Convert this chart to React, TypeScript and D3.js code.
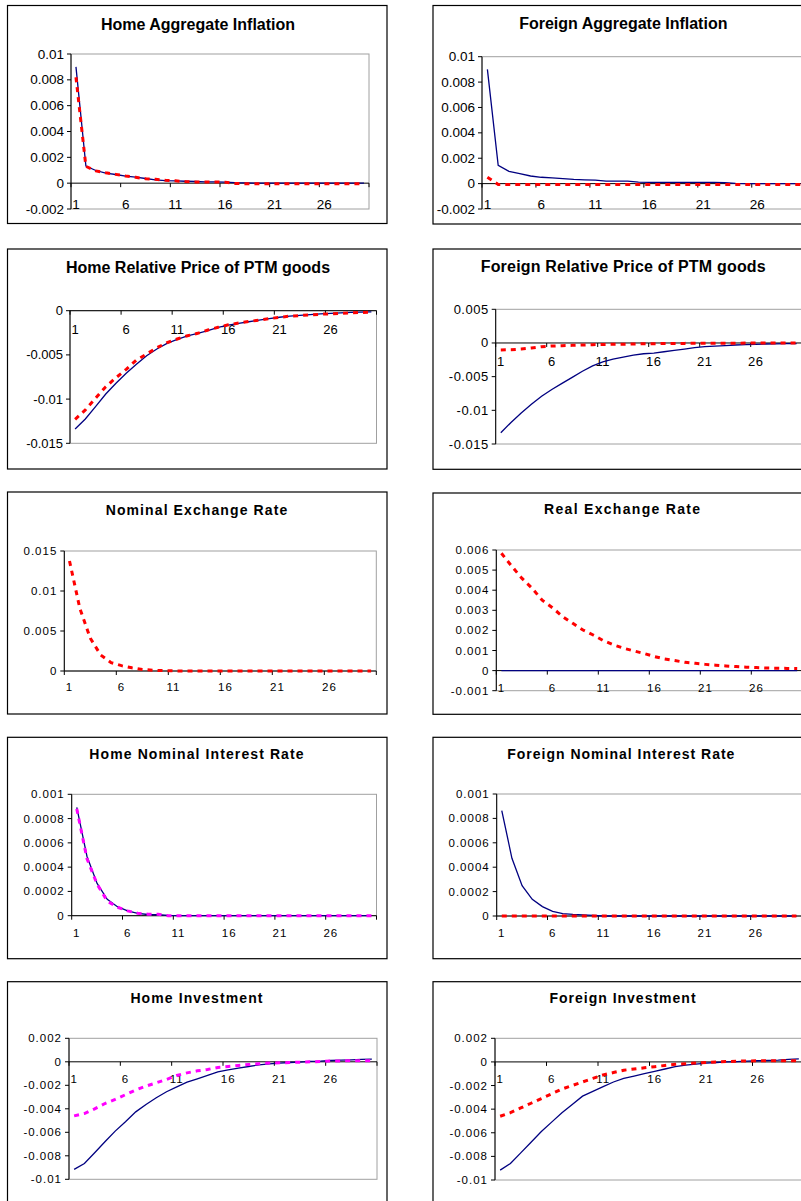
import React from "react";
import * as d3 from "d3";

// ---------- data ----------
const periods = d3.range(1, 31);
const xTickLabels = [1, 6, 11, 16, 21, 26];

const homeInflationBlue = [0.009, 0.00132, 0.00098, 0.00078, 0.00067, 0.00054, 0.00047, 0.00036, 0.00026, 0.0002, 0.00018, 0.00015, 0.00013, 0.0001, 0.0001, 0.00008, 0.00004, 0.00002, 0, 0, 0, 0, 0, 0, 0, 0, 0, 0, 0, 0];
const homeInflationRed = [0.0082, 0.0013, 0.00095, 0.0008, 0.00068, 0.00055, 0.00045, 0.00035, 0.0003, 0.00022, 0.00018, 0.00012, 0.0001, 0.0001, 0.00009, 0.00008, -0.00002, -0.00004, -0.00004, -0.00004, -0.00004, -0.00004, -0.00004, -0.00004, -0.00004, -0.00004, -0.00004, -0.00004, -0.00004, -0.00004];

const foreignInflationBlue = [0.009, 0.00144, 0.00097, 0.00079, 0.0006, 0.0005, 0.00045, 0.0004, 0.00033, 0.0003, 0.00028, 0.0002, 0.0002, 0.0002, 0.00012, 0.0001, 0.0001, 0.0001, 0.0001, 0.0001, 0.0001, 0.0001, 0.00008, 0.00002, 0, 0, 0, 0, 0, 0];
const foreignInflationRed = [0.0005, -0.00006, -0.00006, -0.00006, -0.00006, -0.00006, -0.00006, -0.00006, -0.00006, -0.00006, -0.00006, -0.00006, -0.00006, -0.00006, -0.00006, -0.00006, -0.00006, -0.00006, -0.00006, -0.00006, -0.00006, -0.00006, -0.00006, -0.00006, -0.00006, -0.00006, -0.00006, -0.00006, -0.00006, -0.00006];

const homePtmBlue = [-0.01338, -0.01225, -0.01086, -0.00942, -0.00821, -0.00708, -0.00606, -0.00509, -0.00433, -0.00369, -0.00324, -0.00286, -0.00256, -0.00226, -0.00188, -0.00162, -0.00143, -0.00125, -0.00106, -0.0009, -0.00074, -0.00062, -0.00052, -0.00044, -0.00037, -0.0003, -0.00025, -0.0002, -0.00017, -0.00014];
const homePtmRed = [-0.01229, -0.01123, -0.00991, -0.0086, -0.00758, -0.00663, -0.00558, -0.0049, -0.00419, -0.00362, -0.0032, -0.00283, -0.00256, -0.00218, -0.00188, -0.0016, -0.0014, -0.00122, -0.00107, -0.0009, -0.00075, -0.00062, -0.00055, -0.00048, -0.0004, -0.00035, -0.0003, -0.00025, -0.0002, -0.00018];

const foreignPtmBlue = [-0.01332, -0.0118, -0.0104, -0.0091, -0.0079, -0.0069, -0.006, -0.0051, -0.0042, -0.0034, -0.0028, -0.0024, -0.0021, -0.0018, -0.0016, -0.0015, -0.0013, -0.0011, -0.0009, -0.0007, -0.00055, -0.00048, -0.0004, -0.0003, -0.00025, -0.0002, -0.00015, -0.00012, -0.0001, -0.0001];
const foreignPtmRed = [-0.00104, -0.001, -0.0009, -0.00075, -0.00055, -0.00045, -0.0004, -0.00035, -0.0003, -0.00025, -0.00022, -0.0002, -0.00018, -0.00015, -0.0001, -0.0001, -0.00008, -0.00007, -0.00006, -0.00005, -0.00004, -0.00004, -0.00003, -0.00003, -0.00002, -0.00002, -0.00002, -0.00001, -0.00001, -0.00001];

const nominalExchangeRed = [0.01375, 0.0078, 0.0041, 0.002, 0.00104, 0.00067, 0.0004, 0.0002, 0.0001, 0.00005, 0.00002, 0, 0, 0, 0, 0, 0, 0, 0, 0, 0, 0, 0, 0, 0, 0, 0, 0, 0, 0];

const realExchangeBlue = [0, 0, 0, 0, 0, 0, 0, 0, 0, 0, 0, 0, 0, 0, 0, 0, 0, 0, 0, 0, 0, 0, 0, 0, 0, 0, 0, 0, 0, 0];
const realExchangeRed = [0.00584, 0.0052, 0.0046, 0.0041, 0.0035, 0.00313, 0.00269, 0.00235, 0.00202, 0.00177, 0.00149, 0.00128, 0.00111, 0.00098, 0.00085, 0.0007, 0.00058, 0.0005, 0.00041, 0.00036, 0.00031, 0.00027, 0.00023, 0.0002, 0.00017, 0.00015, 0.00013, 0.00012, 0.00011, 0.0001];

const homeRateBlue = [0.000893, 0.00049, 0.000266, 0.000135, 0.000074, 0.00004, 0.00002, 0.00001, 0.000008, 0.000003, 0, 0, 0, 0, 0, 0, 0, 0, 0, 0, 0, 0, 0, 0, 0, 0, 0, 0, 0, 0];
const homeRatePink = [0.00088, 0.00047, 0.00026, 0.00012, 0.00007, 0.00004, 0.00002, 0.000012, 0.000012, 0, 0, 0, 0, 0, 0, 0, 0, 0, 0, 0, 0, 0, 0, 0, 0, 0, 0, 0, 0, 0];

const foreignRateBlue = [0.000863, 0.000473, 0.000249, 0.000137, 0.000077, 0.000038, 0.00002, 0.000014, 0.00001, 0.000005, 0, 0, 0, 0, 0, 0, 0, 0, 0, 0, 0, 0, 0, 0, 0, 0, 0, 0, 0, 0];
const foreignRateRed = [0, 0, 0, 0, 0, 0, 0, 0, 0, 0, 0, 0, 0, 0, 0, 0, 0, 0, 0, 0, 0, 0, 0, 0, 0, 0, 0, 0, 0, 0];

const homeInvestBlue = [-0.00916, -0.00865, -0.00774, -0.00681, -0.0059, -0.0051, -0.00426, -0.00363, -0.00306, -0.00255, -0.00213, -0.00173, -0.00145, -0.00116, -0.00085, -0.00068, -0.00054, -0.0004, -0.00026, -0.00017, -0.00011, -0.00006, -0.00003, 0.00003, 0.00006, 0.00011, 0.00014, 0.00017, 0.0002, 0.00023];
const homeInvestPink = [-0.0046, -0.0044, -0.004, -0.00355, -0.0032, -0.0028, -0.0024, -0.00207, -0.00179, -0.0015, -0.00116, -0.00094, -0.00077, -0.00065, -0.00048, -0.0004, -0.00031, -0.00023, -0.00017, -0.00011, -0.00009, -0.00006, -0.00003, 0, 0.00003, 0.00006, 0.00008, 0.00008, 0.0001, 0.0001];

const foreignInvestBlue = [-0.00916, -0.0086, -0.0077, -0.0068, -0.0059, -0.0051, -0.0043, -0.0036, -0.0029, -0.0025, -0.0021, -0.0017, -0.0014, -0.0012, -0.001, -0.0008, -0.0006, -0.0004, -0.00028, -0.00018, -0.0001, -0.00005, 0, 0.00003, 0.00006, 0.0001, 0.00012, 0.00015, 0.00022, 0.00025];
const foreignInvestRed = [-0.0046, -0.0043, -0.0039, -0.0035, -0.0031, -0.0027, -0.0023, -0.002, -0.0017, -0.0014, -0.0011, -0.0009, -0.0007, -0.0006, -0.0005, -0.0004, -0.0003, -0.0002, -0.00015, -0.0001, -0.00005, 0, 0.00003, 0.00006, 0.00008, 0.0001, 0.0001, 0.0001, 0.0001, 0.0001];

const ticksInflation = [-0.002, 0, 0.002, 0.004, 0.006, 0.008, 0.01];
const ticksHomePtm = [-0.015, -0.01, -0.005, 0];
const ticksForeignPtm = [-0.015, -0.01, -0.005, 0, 0.005];
const ticksNominalEx = [0, 0.005, 0.01, 0.015];
const ticksRealEx = [-0.001, 0, 0.001, 0.002, 0.003, 0.004, 0.005, 0.006];
const ticksRate = [0, 0.0002, 0.0004, 0.0006, 0.0008, 0.001];
const ticksInvest = [-0.01, -0.008, -0.006, -0.004, -0.002, 0, 0.002];

// ---------- layout ----------
type Panel = {
  title: string;
  frame: [number, number, number, number];
  plot: [number, number, number, number];
  ticks: number[];
  blue?: number[];
  dashed?: number[];
  dashColor: string;
  titleX: number;
  titleY: number;
  titleSize: number;
  titleSpacing: number;
  tickSize: number;
  tickSpacing: number;
  xLabelDy: number;
};

const RED = "#FF0000";
const PINK = "#FF00FF";
const NAVY = "#000080";

const panels: Panel[] = [
  { title: "Home Aggregate Inflation", frame: [7.5, 5.5, 379.5, 218], plot: [71, 54, 369, 209], ticks: ticksInflation, blue: homeInflationBlue, dashed: homeInflationRed, dashColor: RED, titleX: 198, titleY: 30, titleSize: 16, titleSpacing: 0, tickSize: 13.5, tickSpacing: 0, xLabelDy: 21 },
  { title: "Foreign Aggregate Inflation", frame: [433, 5.5, 380, 218.5], plot: [482, 56.7, 805.7, 209], ticks: ticksInflation, blue: foreignInflationBlue, dashed: foreignInflationRed, dashColor: RED, titleX: 623.3, titleY: 29.3, titleSize: 16, titleSpacing: 0, tickSize: 13.5, tickSpacing: 0, xLabelDy: 21 },
  { title: "Home Relative Price of PTM goods", frame: [7.5, 249, 379.5, 220], plot: [70, 310.7, 376.5, 443.3], ticks: ticksHomePtm, blue: homePtmBlue, dashed: homePtmRed, dashColor: RED, titleX: 198, titleY: 273.3, titleSize: 16, titleSpacing: 0, tickSize: 13, tickSpacing: 0, xLabelDy: 19 },
  { title: "Foreign Relative Price of PTM goods", frame: [433, 249, 380, 220.3], plot: [495.7, 309.3, 801.7, 444], ticks: ticksForeignPtm, blue: foreignPtmBlue, dashed: foreignPtmRed, dashColor: RED, titleX: 623.3, titleY: 272.3, titleSize: 16, titleSpacing: 0.2, tickSize: 13, tickSpacing: 0.5, xLabelDy: 19 },
  { title: "Nominal Exchange Rate", frame: [7.5, 492, 379.5, 222], plot: [64.3, 551, 376.3, 671], ticks: ticksNominalEx, dashed: nominalExchangeRed, dashColor: RED, titleX: 197, titleY: 515, titleSize: 14, titleSpacing: 1.1, tickSize: 11.5, tickSpacing: 1, xLabelDy: 16 },
  { title: "Real Exchange Rate", frame: [433, 493, 380, 221.3], plot: [496.3, 550, 802.3, 690.7], ticks: ticksRealEx, blue: realExchangeBlue, dashed: realExchangeRed, dashColor: RED, titleX: 622.7, titleY: 514.3, titleSize: 14, titleSpacing: 1.3, tickSize: 11.5, tickSpacing: 1, xLabelDy: 17 },
  { title: "Home Nominal Interest Rate", frame: [7.5, 737.3, 379.5, 221.4], plot: [71.7, 794.3, 376.5, 915.7], ticks: ticksRate, blue: homeRateBlue, dashed: homeRatePink, dashColor: PINK, titleX: 197, titleY: 759.3, titleSize: 14, titleSpacing: 1.1, tickSize: 11.5, tickSpacing: 1, xLabelDy: 17 },
  { title: "Foreign Nominal Interest Rate", frame: [433, 737.3, 380, 221.4], plot: [496.7, 794, 801.5, 916], ticks: ticksRate, blue: foreignRateBlue, dashed: foreignRateRed, dashColor: RED, titleX: 621.3, titleY: 759.3, titleSize: 14, titleSpacing: 1, tickSize: 11.5, tickSpacing: 1, xLabelDy: 17 },
  { title: "Home Investment", frame: [7.5, 981.7, 379.5, 230], plot: [69, 1038.3, 377, 1179.3], ticks: ticksInvest, blue: homeInvestBlue, dashed: homeInvestPink, dashColor: PINK, titleX: 197, titleY: 1002.7, titleSize: 14, titleSpacing: 1.1, tickSize: 11.5, tickSpacing: 1, xLabelDy: 17 },
  { title: "Foreign Investment", frame: [433, 981.7, 380, 230], plot: [495, 1038.3, 804, 1180], ticks: ticksInvest, blue: foreignInvestBlue, dashed: foreignInvestRed, dashColor: RED, titleX: 623, titleY: 1002.7, titleSize: 14, titleSpacing: 1, tickSize: 11.5, tickSpacing: 1, xLabelDy: 17 },
];

const FONT = "'Liberation Sans', Arial, Helvetica, sans-serif";

function ChartPanel({ p }: { p: Panel }) {
  const [left, top, right, bottom] = p.plot;
  const yMin = d3.min(p.ticks) as number;
  const yMax = d3.max(p.ticks) as number;
  const x = d3.scaleBand<number>().domain(periods).range([left, right]).padding(0);
  const y = d3.scaleLinear().domain([yMin, yMax]).range([bottom, top]);
  const cx = (d: number) => (x(d) as number) + x.bandwidth() / 2;
  const line = d3
    .line<number>()
    .x((_, i) => cx(periods[i]))
    .y((v) => y(v));
  const y0 = y(0);
  const boundaries = xTickLabels.map((d) => x(d) as number).concat([right]);
  const fmt = (v: number) => String(+v.toFixed(6));
  return (
    <g>
      <rect x={p.frame[0]} y={p.frame[1]} width={p.frame[2]} height={p.frame[3]} fill="#fff" stroke="#000" strokeWidth={1.2} />
      <text x={p.titleX} y={p.titleY} textAnchor="middle" fontFamily={FONT} fontWeight="bold" fontSize={p.titleSize} letterSpacing={p.titleSpacing} fill="#000">
        {p.title}
      </text>
      {/* plot area border */}
      <rect x={left} y={top} width={right - left} height={bottom - top} fill="none" stroke="#a0a0a0" strokeWidth={1} />
      {/* y axis */}
      <line x1={left} x2={left} y1={top} y2={bottom} stroke="#000" strokeWidth={1} />
      {p.ticks.map((t) => (
        <g key={t}>
          <line x1={left - 4} x2={left} y1={y(t)} y2={y(t)} stroke="#000" strokeWidth={1} />
          <text x={left - 7} y={y(t)} textAnchor="end" dominantBaseline="central" fontFamily={FONT} fontSize={p.tickSize} letterSpacing={p.tickSpacing} fill="#000">
            {fmt(t)}
          </text>
        </g>
      ))}
      {/* x axis at zero */}
      <line x1={left} x2={right} y1={y0} y2={y0} stroke="#000" strokeWidth={1} />
      {boundaries.map((b, i) => (
        <line key={"b" + i} x1={b} x2={b} y1={y0} y2={y0 + 4} stroke="#000" strokeWidth={1} />
      ))}
      {xTickLabels.map((d) => (
        <text key={"xl" + d} x={cx(d)} y={y0 + p.xLabelDy} textAnchor="middle" dominantBaseline="central" fontFamily={FONT} fontSize={p.tickSize} letterSpacing={p.tickSpacing} fill="#000">
          {d}
        </text>
      ))}
      {p.blue && <path d={line(p.blue) as string} fill="none" stroke={NAVY} strokeWidth={1.3} />}
      {p.dashed && (
        <path d={line(p.dashed) as string} fill="none" stroke={p.dashColor} strokeWidth={3} strokeDasharray="5 5" />
      )}
    </g>
  );
}

export default function App() {
  return (
    <svg
      width={801}
      height={1201}
      viewBox="0 0 801 1201"
      style={{ position: "absolute", left: 0, top: 0, background: "#fff", display: "block" }}
    >
      <rect x={0} y={0} width={801} height={1201} fill="#fff" />
      {panels.map((p) => (
        <ChartPanel key={p.title} p={p} />
      ))}
    </svg>
  );
}
